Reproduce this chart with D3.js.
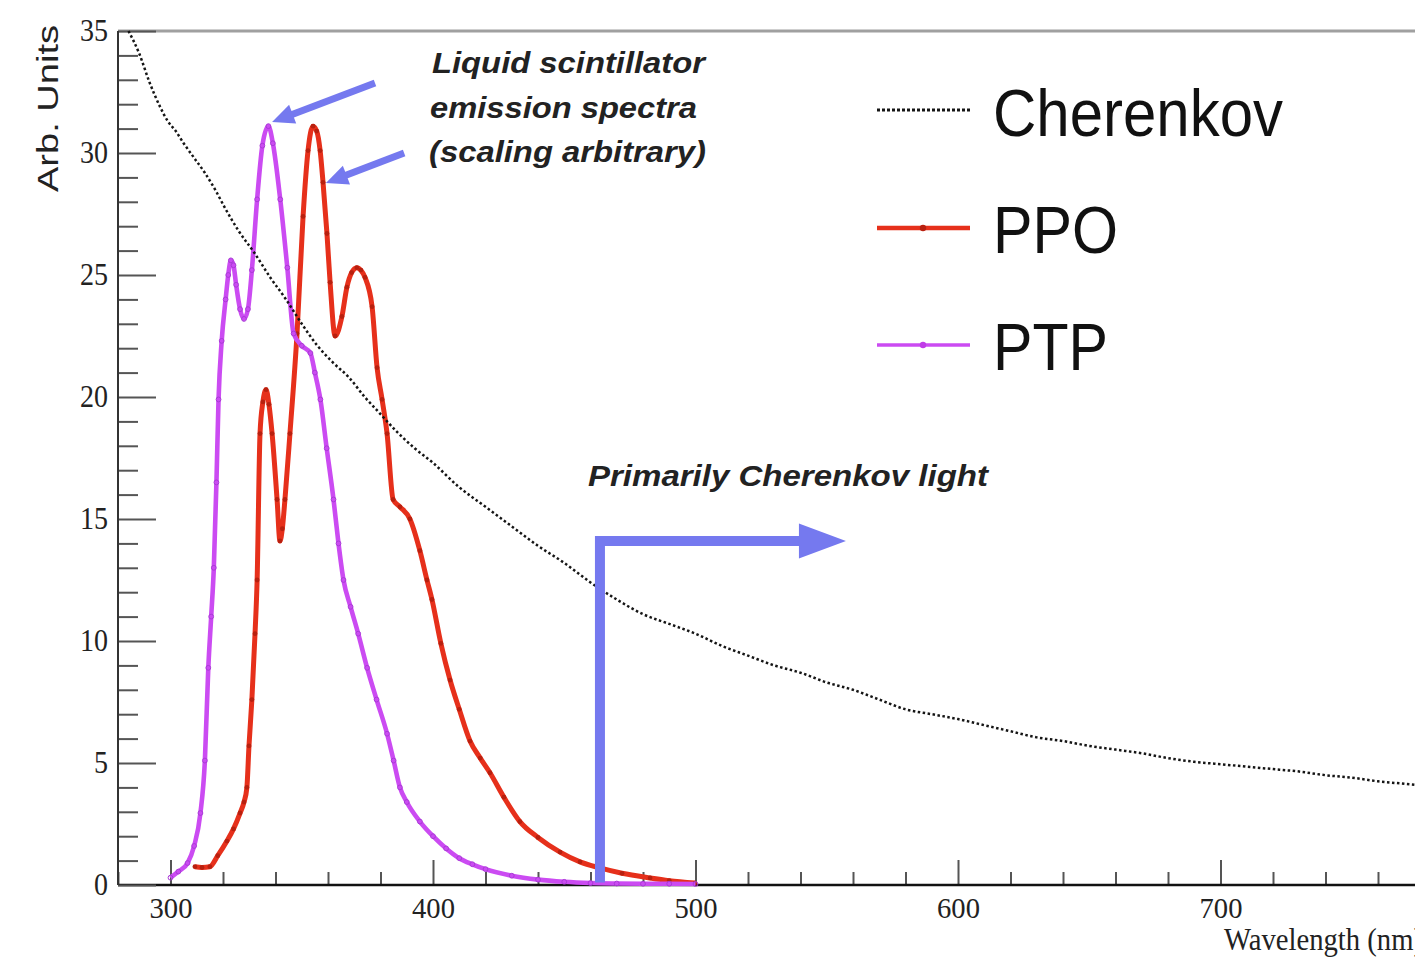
<!DOCTYPE html>
<html>
<head>
<meta charset="utf-8">
<script src="https://cdn.jsdelivr.net/npm/d3@7"></script>
<style>
  body { margin: 0; background: #fff; }
  svg { display: block; }
</style>
</head>
<body>
<svg id="chart" width="1415" height="961"></svg>
<script>
// ---- Spectra (wavelength in nm, intensity in arbitrary units) ----
const cherenkovWavelength = [284, 288, 292, 296, 299, 302, 305, 309, 313, 317, 321, 326, 332, 338, 344, 350, 356, 362, 368, 374, 380, 386, 393, 400, 410, 420, 430, 440, 450, 460, 470, 480, 490, 500, 510, 520, 530, 540, 550, 560, 570, 580, 590, 600, 610, 620, 630, 640, 650, 660, 670, 680, 690, 700, 710, 720, 730, 740, 750, 760, 770, 780, 790, 800];
const cherenkovIntensity = [35.0, 34.1, 32.9, 31.9, 31.3, 30.9, 30.4, 29.8, 29.2, 28.5, 27.7, 26.8, 25.9, 24.9, 24.0, 23.0, 22.1, 21.4, 20.8, 20.0, 19.3, 18.6, 17.9, 17.3, 16.3, 15.5, 14.7, 13.9, 13.2, 12.4, 11.7, 11.1, 10.7, 10.3, 9.8, 9.4, 9.0, 8.7, 8.3, 8.0, 7.6, 7.2, 7.0, 6.8, 6.55, 6.3, 6.05, 5.9, 5.7, 5.55, 5.4, 5.2, 5.05, 4.95, 4.85, 4.75, 4.65, 4.5, 4.4, 4.25, 4.15, 4.05, 3.95, 3.85];

const ppoWavelength = [309.3, 312, 315, 318, 321.5, 324, 326.5, 328, 329.1, 329.9, 331, 332.2, 333, 334.1, 335.2, 336.4, 337.5, 338.7, 340.6, 341.7, 342.6, 343.6, 345.5, 348.2, 350.5, 352.4, 354.3, 355.7, 357, 358.1, 359.6, 360.8, 362.7, 365.3, 367.2, 369, 371, 372.5, 374.1, 376.8, 378.7, 380.6, 382.5, 384.8, 387.4, 391.2, 395, 397.7, 399.6, 403, 406.5, 410, 414.1, 418, 421.7, 427, 433.1, 440, 448.4, 456, 463.6, 472, 482.7, 490, 499.8];
const ppoIntensity = [0.75, 0.72, 0.75, 1.2, 1.8, 2.3, 2.95, 3.4, 4.0, 5.7, 7.6, 10.3, 12.5, 18.5, 19.8, 20.3, 19.7, 18.5, 15.8, 14.1, 14.6, 15.8, 18.5, 22.6, 27.4, 30.1, 31.1, 30.9, 30.1, 28.8, 26.7, 24.7, 22.5, 23.3, 24.5, 25.1, 25.3, 25.2, 24.9, 23.7, 21.2, 19.9, 18.5, 15.8, 15.5, 15.0, 13.7, 12.5, 11.7, 9.9, 8.4, 7.2, 5.9, 5.2, 4.6, 3.6, 2.6, 1.95, 1.35, 0.95, 0.7, 0.48, 0.29, 0.18, 0.08];

const ptpWavelength = [300, 303, 306.5, 309, 311.4, 313.1, 314.4, 315.5, 316.5, 317.5, 318.3, 319.5, 321, 322, 323, 324, 325, 326.5, 328, 329.5, 331, 333, 335, 337.3, 339, 341.8, 344.5, 346.9, 350, 353.3, 355, 357.1, 359.5, 362.1, 364, 365.9, 368.6, 371.5, 374.9, 378.5, 382.5, 385, 387.4, 390, 395, 400, 405, 410, 415, 420, 430, 440, 450, 460, 470, 480, 490, 500];
const ptpIntensity = [0.3, 0.55, 0.9, 1.6, 2.95, 5.1, 8.9, 11.0, 13.0, 16.5, 19.9, 22.3, 24.0, 25.0, 25.6, 25.4, 24.6, 23.6, 23.2, 23.6, 25.2, 28.1, 30.3, 31.1, 30.4, 28.1, 25.3, 22.6, 22.1, 21.8, 21.0, 19.9, 17.9, 15.8, 14.0, 12.5, 11.4, 10.3, 8.9, 7.6, 6.2, 5.1, 4.0, 3.4, 2.6, 2.0, 1.5, 1.1, 0.85, 0.65, 0.38, 0.22, 0.13, 0.08, 0.06, 0.05, 0.05, 0.04];

const seriesNames = ["Cherenkov", "PPO", "PTP"];

// ---- Axis ticks ----
const xMajorTicks = [300, 400, 500, 600, 700];
const xMinorTicks = [280, 320, 340, 360, 380, 420, 440, 460, 480, 520, 540, 560, 580, 620, 640, 660, 680, 720, 740, 760, 780];
const yMajorTicks = [0, 5, 10, 15, 20, 25, 30, 35];
const yMinorTicks = [1, 2, 3, 4, 6, 7, 8, 9, 11, 12, 13, 14, 16, 17, 18, 19, 21, 22, 23, 24, 26, 27, 28, 29, 31, 32, 33, 34];

// ---- Annotation text ----
const noteLines = ["Liquid scintillator", "emission spectra", "(scaling arbitrary)"];
const regionLabel = "Primarily Cherenkov light";
const xTitle = "Wavelength (nm)";
const yTitle = "Arb. Units";

// ---- Styles ----
const COLORS = { cherenkov: "#151515", ppo: "#e6301b", ptp: "#cb4bf2", arrow: "#7579ef", axis: "#111", tick: "#555" };
const serif = "'Liberation Serif', 'Times New Roman', serif";
const sans = "'Liberation Sans', Arial, Helvetica, sans-serif";

const svg = d3.select("#chart");

const x = d3.scaleLinear().domain([280, 800]).range([118, 1483]);
const y = d3.scaleLinear().domain([0, 35]).range([885, 31]);

const zip = (xs, ys) => xs.map((v, i) => ({ wl: v, val: ys[i] }));
const cherenkov = zip(cherenkovWavelength, cherenkovIntensity);
const ppo = zip(ppoWavelength, ppoIntensity);
const ptp = zip(ptpWavelength, ptpIntensity);

// frame top edge
svg.append("line")
  .attr("x1", x.range()[0]).attr("x2", x.range()[1])
  .attr("y1", y(35)).attr("y2", y(35))
  .attr("stroke", "#a0a0a0").attr("stroke-width", 3);

// ---- X axis ----
const gx = svg.append("g").attr("transform", `translate(0,${y(0)})`);
gx.call(d3.axisBottom(x).tickValues(xMinorTicks).tickSizeInner(-13).tickSizeOuter(0).tickFormat(""))
  .call(g => g.select(".domain").remove());
gx.append("g").call(d3.axisBottom(x).tickValues(xMajorTicks).tickSizeInner(-25).tickSizeOuter(0).tickPadding(12))
  .call(g => g.select(".domain").remove());
gx.selectAll(".tick line").attr("stroke", COLORS.tick).attr("stroke-width", 2);
gx.selectAll(".tick text")
  .attr("font-family", serif).attr("font-size", 30).attr("fill", "#222")
  .attr("textLength", d => String(d).length * 14.3)
  .attr("lengthAdjust", "spacingAndGlyphs");
gx.append("line")
  .attr("x1", x.range()[0]).attr("x2", x.range()[1])
  .attr("stroke", COLORS.axis).attr("stroke-width", 2.5);

// ---- Y axis ----
const gy = svg.append("g").attr("transform", `translate(${x(280)},0)`);
gy.call(d3.axisLeft(y).tickValues(yMinorTicks).tickSizeInner(-20).tickSizeOuter(0).tickFormat(""))
  .call(g => g.select(".domain").remove());
gy.append("g").call(d3.axisLeft(y).tickValues(yMajorTicks).tickSizeInner(-38).tickSizeOuter(0).tickPadding(10))
  .call(g => g.select(".domain").remove());
gy.selectAll(".tick line").attr("stroke", COLORS.tick).attr("stroke-width", 2);
gy.selectAll(".tick text")
  .attr("font-family", serif).attr("font-size", 31).attr("fill", "#222")
  .attr("textLength", d => String(d).length * 14)
  .attr("lengthAdjust", "spacingAndGlyphs");
gy.append("line")
  .attr("y1", y(0)).attr("y2", y(35))
  .attr("stroke", "#333").attr("stroke-width", 2);

// ---- Axis titles ----
svg.append("text")
  .attr("x", 1224).attr("y", 950)
  .attr("font-family", serif).attr("font-size", 32).attr("fill", "#222")
  .attr("textLength", 199).attr("lengthAdjust", "spacingAndGlyphs")
  .text(xTitle);

svg.append("text")
  .attr("transform", "translate(58,192) rotate(-90)")
  .attr("font-family", sans).attr("font-size", 29).attr("fill", "#222")
  .attr("textLength", 167).attr("lengthAdjust", "spacingAndGlyphs")
  .text(yTitle);

// ---- Curves ----
const line = d3.line().x(d => x(d.wl)).y(d => y(d.val)).curve(d3.curveMonotoneX);
const plot = svg.append("g");

plot.append("path").datum(ppo)
  .attr("d", line).attr("fill", "none")
  .attr("stroke", COLORS.ppo).attr("stroke-width", 5).attr("stroke-linejoin", "round");
plot.append("g").selectAll("circle").data(ppo).join("circle")
  .attr("cx", d => x(d.wl)).attr("cy", d => y(d.val)).attr("r", 2.4)
  .attr("fill", "#b8200f");

plot.append("path").datum(ptp)
  .attr("d", line).attr("fill", "none")
  .attr("stroke", COLORS.ptp).attr("stroke-width", 4.6).attr("stroke-linejoin", "round");
plot.append("g").selectAll("circle").data(ptp).join("circle")
  .attr("cx", d => x(d.wl)).attr("cy", d => y(d.val)).attr("r", 2.4)
  .attr("fill", "none").attr("stroke", "#a93ad6").attr("stroke-width", 1);

plot.append("path").datum(cherenkov)
  .attr("d", line).attr("fill", "none")
  .attr("stroke", COLORS.cherenkov).attr("stroke-width", 2.5)
  .attr("stroke-dasharray", "2.5,2.5");

// ---- Arrows ----
function arrow(g, x0, y0, x1, y1, shaftW, headL, headW) {
  const dx = x1 - x0, dy = y1 - y0, len = Math.hypot(dx, dy);
  const ux = dx / len, uy = dy / len, px = -uy, py = ux;
  const bx = x1 - ux * headL, by = y1 - uy * headL;
  g.append("line").attr("x1", x0).attr("y1", y0).attr("x2", bx + ux * 2).attr("y2", by + uy * 2)
    .attr("stroke", COLORS.arrow).attr("stroke-width", shaftW);
  g.append("path")
    .attr("d", `M${x1},${y1}L${bx + px * headW / 2},${by + py * headW / 2}L${bx - px * headW / 2},${by - py * headW / 2}Z`)
    .attr("fill", COLORS.arrow);
}
const ann = svg.append("g");
// pointers to the two scintillator peaks
arrow(ann, x(377.9), y(32.87), x(338.7), y(31.27), 7, 22, 20);
arrow(ann, x(389.0), y(30.0), x(359.2), y(28.77), 7, 22, 20);

// Cherenkov-dominated region marker
const cornerX = x(463.6), cornerY = y(14.1), tipX = x(557.3), headLen = 47;
ann.append("path")
  .attr("d", `M${cornerX},${y(0.1)}V${cornerY}H${tipX - headLen + 2}`)
  .attr("fill", "none").attr("stroke", COLORS.arrow).attr("stroke-width", 10)
  .attr("stroke-linejoin", "miter");
ann.append("path")
  .attr("d", `M${tipX},${cornerY}L${tipX - headLen},${cornerY - 17.5}L${tipX - headLen},${cornerY + 17.5}Z`)
  .attr("fill", COLORS.arrow);

// ---- Annotation text ----
const noteBaselines = [73, 117.5, 162];
const noteX = [432, 430, 429];
const noteWidths = [273, 267, 277];
noteLines.forEach((t, i) => {
  ann.append("text")
    .attr("x", noteX[i]).attr("y", noteBaselines[i])
    .attr("font-family", sans).attr("font-size", 30)
    .attr("font-weight", "bold").attr("font-style", "italic").attr("fill", "#222")
    .attr("textLength", noteWidths[i]).attr("lengthAdjust", "spacingAndGlyphs")
    .text(t);
});
ann.append("text")
  .attr("x", 588).attr("y", 486)
  .attr("font-family", sans).attr("font-size", 30)
  .attr("font-weight", "bold").attr("font-style", "italic").attr("fill", "#222")
  .attr("textLength", 400).attr("lengthAdjust", "spacingAndGlyphs")
  .text(regionLabel);

// ---- Legend ----
const legend = svg.append("g");
const legendRows = [
  { name: seriesNames[0], y: 110, base: 136, width: 290, color: COLORS.cherenkov, dotted: true },
  { name: seriesNames[1], y: 228, base: 253, width: 125, color: COLORS.ppo, sw: 4.5, mk: "#b8200f" },
  { name: seriesNames[2], y: 345, base: 370, width: 115, color: COLORS.ptp, sw: 3.5, mk: "#c03ce8" }
];
legendRows.forEach(r => {
  const ln = legend.append("line")
    .attr("x1", 877).attr("x2", 970).attr("y1", r.y).attr("y2", r.y)
    .attr("stroke", r.color);
  if (r.dotted) {
    ln.attr("stroke-width", 3).attr("stroke-dasharray", "3,2");
  } else {
    ln.attr("stroke-width", r.sw);
    legend.append("circle").attr("cx", 923).attr("cy", r.y).attr("r", 3.2).attr("fill", r.mk);
  }
  legend.append("text")
    .attr("x", 993).attr("y", r.base)
    .attr("font-family", sans).attr("font-size", 66).attr("fill", "#111")
    .attr("textLength", r.width).attr("lengthAdjust", "spacingAndGlyphs")
    .text(r.name);
});
</script>
</body>
</html>
